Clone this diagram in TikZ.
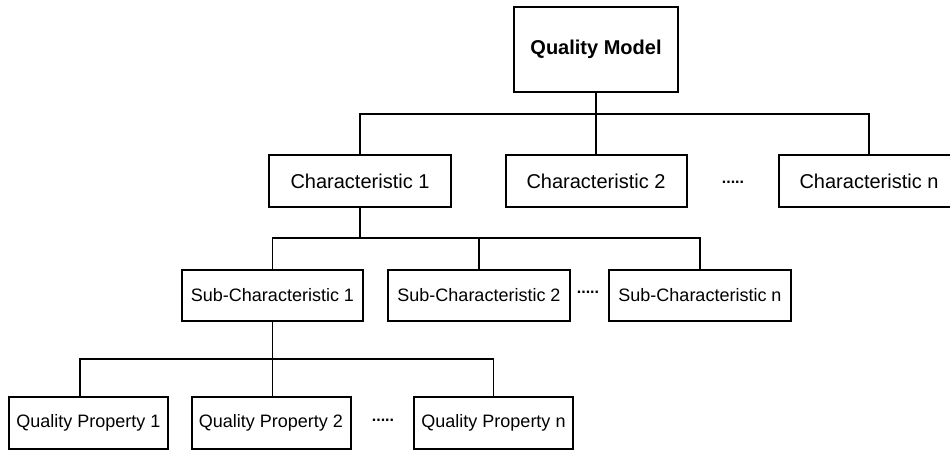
\documentclass[tikz,border=0pt]{standalone}
\usepackage{fontspec}
\setmainfont{Liberation Sans}
\begin{document}
\begin{tikzpicture}[x=1pt,y=-1pt,
  box/.style={draw=black,line width=2pt,fill=white,inner sep=0pt,minimum height=52pt,align=center},
  big/.style={box,font=\fontsize{20}{24}\selectfont},
  small/.style={box,font=\fontsize{18}{22}\selectfont},
  conn/.style={draw=black,line width=1.5pt},
  dots/.style={inner sep=0pt,font=\bfseries\fontsize{16}{16}\selectfont}]
\clip (0,0) rectangle (950,450);
\fill[white] (0,0) rectangle (950,450);
% nodes
\node[box,font=\bfseries\fontsize{20}{24}\selectfont,minimum width=164pt,minimum height=85pt] (qm) at (596,49.5) {Quality Model};
\node[big,minimum width=182pt] (c1) at (360,181) {Characteristic 1};
\node[big,minimum width=181pt] (c2) at (596,181) {Characteristic 2};
\node[big,minimum width=180pt] (cn) at (869,181) {Characteristic n};
\node[dots] (d1) at (733,182) {.....};
\node[small,minimum width=181pt,minimum height=51pt] (s1) at (272.5,295.5) {Sub-Characteristic 1};
\node[small,minimum width=182pt,minimum height=51pt] (s2) at (479,295.5) {Sub-Characteristic 2};
\node[small,minimum width=182pt,minimum height=51pt] (sn) at (700,295.5) {Sub-Characteristic n};
\node[dots] (d2) at (588,292) {.....};
\node[small,minimum width=159pt] (q1) at (88.5,423) {Quality Property 1};
\node[small,minimum width=159pt] (q2) at (271,423) {Quality Property 2};
\node[small,minimum width=159pt] (qn) at (493.5,423) {Quality Property n};
\node[dots] (d3) at (383,420) {.....};
% buses
\coordinate (b1) at (596,114);
\coordinate (b2) at (360,238);
\coordinate (b3) at (272.5,359);
\coordinate (q1t) at (80,397);
% connectors level 1
\draw[conn] (qm.south) -- (c2.north);
\draw[conn] (b1) -| (c1.north);
\draw[conn] (b1) -| (cn.north);
% level 2
\draw[conn] (c1.south) -- (b2);
\draw[conn] (b2) -| (s1.north);
\draw[conn] (b2) -| (s2.north);
\draw[conn] (b2) -| (sn.north);
% level 3
\draw[conn] (s1.south) -- (s1.south |- q2.north);
\draw[conn] (b3) -| (q1t);
\draw[conn] (b3) -| (qn.north);
\end{tikzpicture}
\end{document}
